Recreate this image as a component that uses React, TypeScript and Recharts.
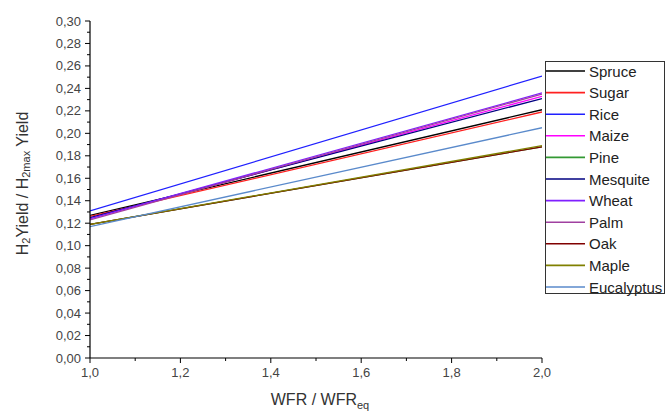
import React from 'react';
import { LineChart, Line, XAxis, YAxis, Label } from 'recharts';

const wfr = [1.0, 2.0];
const seriesNames = ['Spruce', 'Sugar', 'Rice', 'Maize', 'Pine', 'Mesquite', 'Wheat', 'Palm', 'Oak', 'Maple', 'Eucalyptus'];
const spruce = [0.127, 0.221];
const sugar = [0.126, 0.219];
const rice = [0.131, 0.251];
const maize = [0.124, 0.233];
const pine = [0.119, 0.188];
const mesquite = [0.125, 0.231];
const wheat = [0.124, 0.236];
const palm = [0.123, 0.235];
const oak = [0.119, 0.188];
const maple = [0.119, 0.189];
const eucalyptus = [0.117, 0.205];
const seriesValues = [spruce, sugar, rice, maize, pine, mesquite, wheat, palm, oak, maple, eucalyptus];
const seriesColors = ['#000000', '#FF2020', '#2020FF', '#FF00FF', '#339933', '#000080', '#8020FF', '#A040A0', '#800000', '#808000', '#5A8ACB'];

const xTicks = [1.0, 1.1, 1.2, 1.3, 1.4, 1.5, 1.6, 1.7, 1.8, 1.9, 2.0];
const yTicks = [0, 0.01, 0.02, 0.03, 0.04, 0.05, 0.06, 0.07, 0.08, 0.09, 0.1, 0.11, 0.12, 0.13, 0.14, 0.15, 0.16, 0.17, 0.18, 0.19, 0.2, 0.21, 0.22, 0.23, 0.24, 0.25, 0.26, 0.27, 0.28, 0.29, 0.3];

const data = wfr.map((x, i) => {
  const row: any = { x };
  seriesNames.forEach((n, k) => { row[n] = seriesValues[k][i]; });
  return row;
});

const FONT = '"Liberation Sans", Arial, sans-serif';
const TS = 5;
const TM = 4;

const XTick = (props: any) => {
  const { x, y, index } = props;
  const major = index % 2 === 0;
  const axisY = y - TS - TM;
  const v = props.payload.value as number;
  return (
    <g>
      <line x1={x} x2={x} y1={axisY} y2={axisY + (major ? 5 : 3)} stroke="#000" strokeWidth={1} />
      {major && (
        <text x={x} y={y} textAnchor="middle" dominantBaseline="hanging" style={{ fontSize: 13, fill: '#444', fontFamily: FONT }}>
          {v.toFixed(1).replace('.', ',')}
        </text>
      )}
    </g>
  );
};

const YTick = (props: any) => {
  const { x, y, index } = props;
  const major = index % 2 === 0;
  const axisX = x + TS + TM;
  const v = props.payload.value as number;
  return (
    <g>
      <line x1={axisX} x2={axisX - (major ? 5 : 3)} y1={y} y2={y} stroke="#000" strokeWidth={1} />
      {major && (
        <text x={x} y={y} textAnchor="end" dominantBaseline="central" style={{ fontSize: 13, fill: '#444', fontFamily: FONT }}>
          {v.toFixed(2).replace('.', ',')}
        </text>
      )}
    </g>
  );
};

const YTitle = (props: any) => {
  const vb = props.viewBox || { x: 0, y: 0, width: 90, height: 337 };
  const cx = vb.x + 22;
  const cy = vb.y + vb.height / 2 - 6;
  return (
    <text transform={`rotate(-90, ${cx}, ${cy})`} x={cx} y={cy} textAnchor="middle" dominantBaseline="central"
      style={{ fontSize: 16, fill: '#333', fontFamily: FONT }}>
      <tspan>H</tspan>
      <tspan dy={4} fontSize={11}>2</tspan>
      <tspan dy={-4}>Yield / H</tspan>
      <tspan dy={4} fontSize={11}>2max</tspan>
      <tspan dy={-4}> Yield</tspan>
    </text>
  );
};

const XTitle = (props: any) => {
  const vb = props.viewBox || { x: 90, y: 358, width: 452, height: 53 };
  const cx = vb.x + vb.width / 2 + 4;
  const y = vb.y + 47;
  return (
    <text x={cx} y={y} textAnchor="middle" style={{ fontSize: 16, fill: '#333', fontFamily: FONT }}>
      <tspan>WFR / WFR</tspan>
      <tspan dy={4} fontSize={11}>eq</tspan>
    </text>
  );
};

const ROW = 21.6;

export default function App() {
  return (
    <div style={{ position: 'absolute', left: 0, top: 0, width: 667, height: 411, background: '#fff' }}>
      <LineChart width={667} height={411} data={data} margin={{ top: 21, right: 125, bottom: 0, left: 0 }}>
        <XAxis dataKey="x" type="number" domain={[1, 2]} ticks={xTicks} height={53}
          tickSize={TS} tickMargin={TM} axisLine={{ stroke: '#000', strokeWidth: 1.2 }} tickLine={false}
          tick={<XTick />} interval={0} allowDataOverflow>
          <Label content={<XTitle />} />
        </XAxis>
        <YAxis type="number" domain={[0, 0.3]} ticks={yTicks} width={90}
          tickSize={TS} tickMargin={TM} axisLine={{ stroke: '#000', strokeWidth: 1.2 }} tickLine={false}
          tick={<YTick />} interval={0} allowDataOverflow>
          <Label content={<YTitle />} />
        </YAxis>
        {seriesNames.map((n, k) => (
          <Line key={n} type="linear" dataKey={n} stroke={seriesColors[k]}
            strokeWidth={1.3} dot={false} activeDot={false} isAnimationActive={false} />
        ))}
      </LineChart>
      <svg style={{ position: 'absolute', left: 545, top: 61, overflow: 'visible' }} width={121} height={234}>
        <rect x={0.5} y={0.5} width={119} height={232} fill="#fff" stroke="#333" strokeWidth={1} />
        {seriesNames.map((n, k) => {
          const cy = 10 + k * ROW;
          return (
            <g key={n}>
              <line x1={1} x2={40} y1={cy} y2={cy} stroke={seriesColors[k]} strokeWidth={1.6} />
              <text x={44} y={cy} dominantBaseline="central" style={{ fontSize: 15, fill: '#222', fontFamily: FONT }}>{n}</text>
            </g>
          );
        })}
      </svg>
    </div>
  );
}
